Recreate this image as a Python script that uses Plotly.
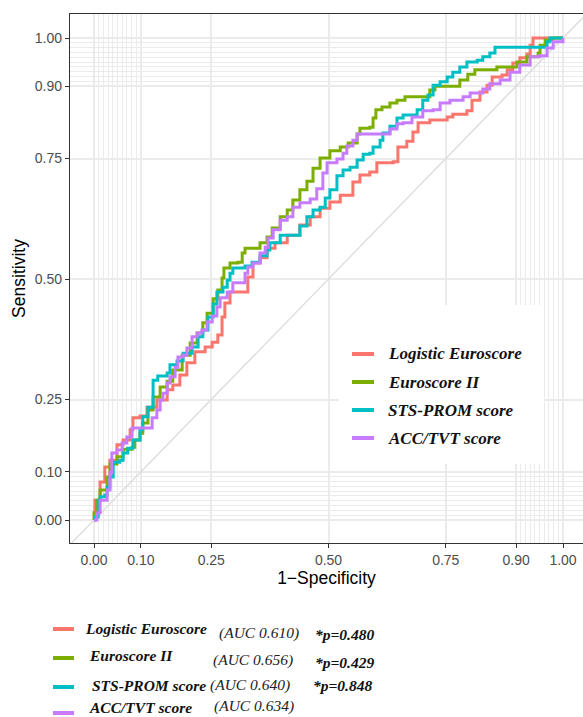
import plotly.graph_objects as go

# ---------------- data (1 - specificity, sensitivity) ----------------
series_names = ["Logistic Euroscore", "Euroscore II", "STS-PROM score", "ACC/TVT score"]
series_colors = ["#F8766D", "#7CAE00", "#00BFC4", "#C77CFF"]
auc_labels = ["(AUC 0.610)", "(AUC 0.656)", "(AUC 0.640)", "(AUC 0.634)"]
p_labels = ["*p=0.480", "*p=0.429", "*p=0.848", ""]

logistic_fpr = [0, 0.002, 0.013, 0.023, 0.034, 0.049, 0.062, 0.077, 0.083, 0.098, 0.113, 0.134,
                0.156, 0.168, 0.183, 0.198, 0.215, 0.237, 0.252, 0.264, 0.273, 0.279, 0.290, 0.322,
                0.328, 0.339, 0.354, 0.369, 0.386, 0.412, 0.439, 0.461, 0.482, 0.503, 0.525, 0.552,
                0.567, 0.588, 0.603, 0.638, 0.648, 0.667, 0.680, 0.691, 0.716, 0.753, 0.765, 0.795,
                0.806, 0.823, 0.838, 0.849, 0.870, 0.881, 0.893, 0.908, 0.923, 0.930, 0.936, 1.0]
logistic_tpr = [0, 0.041, 0.079, 0.110, 0.124, 0.156, 0.166, 0.187, 0.212, 0.216, 0.234, 0.249,
                0.270, 0.280, 0.301, 0.326, 0.349, 0.359, 0.369, 0.384, 0.421, 0.450, 0.473, 0.473,
                0.504, 0.533, 0.544, 0.564, 0.575, 0.591, 0.612, 0.629, 0.647, 0.660, 0.674, 0.701,
                0.716, 0.722, 0.741, 0.743, 0.774, 0.786, 0.805, 0.824, 0.830, 0.836, 0.842, 0.849,
                0.871, 0.888, 0.902, 0.919, 0.923, 0.934, 0.948, 0.959, 0.967, 0.985, 1.0, 1.0]

euro2_fpr = [0, 0, 0.006, 0.013, 0.028, 0.034, 0.049, 0.062, 0.081, 0.087, 0.098, 0.104, 0.115,
             0.126, 0.141, 0.156, 0.168, 0.188, 0.205, 0.220, 0.232, 0.241, 0.254, 0.264, 0.273,
             0.277, 0.290, 0.307, 0.316, 0.322, 0.348, 0.354, 0.369, 0.380, 0.397, 0.412, 0.424,
             0.439, 0.454, 0.467, 0.482, 0.503, 0.525, 0.542, 0.561, 0.567, 0.588, 0.595, 0.601,
             0.614, 0.631, 0.646, 0.663, 0.706, 0.716, 0.727, 0.774, 0.780, 0.797, 0.812, 0.859,
             0.887, 0.902, 0.923, 0.947, 0.951, 0.962, 0.977, 1.0]
euro2_tpr = [0, 0.015, 0.041, 0.062, 0.089, 0.116, 0.131, 0.147, 0.151, 0.166, 0.180, 0.201, 0.228,
             0.255, 0.276, 0.288, 0.311, 0.342, 0.367, 0.388, 0.409, 0.429, 0.459, 0.477, 0.502,
             0.523, 0.533, 0.535, 0.554, 0.564, 0.564, 0.575, 0.587, 0.606, 0.629, 0.643, 0.664,
             0.685, 0.703, 0.730, 0.751, 0.766, 0.774, 0.782, 0.801, 0.813, 0.815, 0.834, 0.851,
             0.857, 0.865, 0.871, 0.878, 0.878, 0.892, 0.900, 0.900, 0.913, 0.925, 0.934, 0.940,
             0.940, 0.950, 0.961, 0.969, 0.985, 0.996, 1.0, 1.0]

sts_fpr = [0, 0.002, 0.009, 0.013, 0.023, 0.028, 0.034, 0.041, 0.055, 0.062, 0.072, 0.083, 0.098,
           0.104, 0.115, 0.126, 0.136, 0.156, 0.162, 0.177, 0.190, 0.209, 0.222, 0.232, 0.243,
           0.254, 0.262, 0.275, 0.284, 0.290, 0.296, 0.322, 0.337, 0.354, 0.369, 0.375, 0.397,
           0.433, 0.439, 0.454, 0.467, 0.482, 0.493, 0.503, 0.518, 0.531, 0.546, 0.561, 0.574,
           0.588, 0.595, 0.610, 0.616, 0.631, 0.646, 0.659, 0.680, 0.689, 0.701, 0.712, 0.723,
           0.738, 0.753, 0.765, 0.780, 0.795, 0.817, 0.829, 0.844, 0.855, 0.957, 0.966, 0.972, 1.0]
sts_tpr = [0, 0.006, 0.041, 0.048, 0.052, 0.068, 0.089, 0.120, 0.124, 0.139, 0.149, 0.166, 0.187,
           0.214, 0.234, 0.290, 0.299, 0.305, 0.322, 0.330, 0.346, 0.359, 0.380, 0.394, 0.421,
           0.448, 0.473, 0.483, 0.498, 0.512, 0.523, 0.527, 0.535, 0.548, 0.560, 0.575, 0.591,
           0.591, 0.610, 0.629, 0.643, 0.649, 0.668, 0.685, 0.714, 0.726, 0.732, 0.747, 0.759,
           0.761, 0.774, 0.788, 0.803, 0.817, 0.834, 0.840, 0.840, 0.851, 0.871, 0.882, 0.902,
           0.909, 0.919, 0.929, 0.940, 0.950, 0.954, 0.961, 0.969, 0.981, 0.981, 0.992, 1.0, 1.0]

acc_fpr = [0, 0.006, 0.013, 0.023, 0.028, 0.034, 0.038, 0.049, 0.060, 0.070, 0.081, 0.113, 0.124,
           0.134, 0.141, 0.147, 0.156, 0.162, 0.173, 0.179, 0.190, 0.198, 0.209, 0.220, 0.230,
           0.241, 0.252, 0.262, 0.269, 0.284, 0.296, 0.311, 0.322, 0.328, 0.339, 0.354, 0.365,
           0.371, 0.382, 0.397, 0.412, 0.424, 0.439, 0.461, 0.475, 0.488, 0.497, 0.518, 0.531,
           0.539, 0.552, 0.561, 0.625, 0.631, 0.646, 0.659, 0.678, 0.701, 0.723, 0.738, 0.759,
           0.787, 0.802, 0.829, 0.844, 0.866, 0.887, 0.908, 0.930, 0.951, 0.966, 0.979, 1.0]
acc_tpr = [0, 0.015, 0.041, 0.041, 0.062, 0.098, 0.139, 0.145, 0.160, 0.172, 0.191, 0.191, 0.212,
           0.228, 0.249, 0.263, 0.284, 0.297, 0.317, 0.338, 0.342, 0.357, 0.380, 0.388, 0.394,
           0.411, 0.423, 0.442, 0.461, 0.473, 0.492, 0.492, 0.512, 0.525, 0.533, 0.554, 0.566,
           0.585, 0.602, 0.622, 0.629, 0.649, 0.658, 0.666, 0.687, 0.720, 0.741, 0.749, 0.761,
           0.776, 0.788, 0.801, 0.801, 0.811, 0.822, 0.824, 0.836, 0.849, 0.851, 0.865, 0.871,
           0.878, 0.886, 0.894, 0.905, 0.913, 0.929, 0.944, 0.961, 0.963, 0.979, 0.992, 1.0]

series_fpr = [logistic_fpr, euro2_fpr, sts_fpr, acc_fpr]
series_tpr = [logistic_tpr, euro2_tpr, sts_tpr, acc_tpr]

major_breaks = [0, 0.1, 0.25, 0.5, 0.75, 0.9, 1.0]
major_labels = ["0.00", "0.10", "0.25", "0.50", "0.75", "0.90", "1.00"]
minor_breaks = [round(i * 0.01, 2) for i in range(0, 11)] + [round(0.9 + i * 0.01, 2) for i in range(0, 11)]

# ---------------- layout geometry (pixels) ----------------
W, H = 583, 717
PL, PT, PR, PB = 70, 14, 583, 543        # plot panel edges
X0PX, X1PX = 94, 563                      # pixel of fpr 0 and 1
Y0PX, Y1PX = 520, 38                      # pixel of tpr 0 and 1
xs = (X1PX - X0PX)
ys = (Y0PX - Y1PX)
xrange_ = [(PL - X0PX) / xs, (PR - X0PX) / xs]
yrange_ = [(Y0PX - PB) / ys, (Y0PX - PT) / ys]


def pxx(p):
    return (p - PL) / (PR - PL)


def pxy(p):
    return (PB - p) / (PB - PT)


fig = go.Figure()

# diagonal reference line
fig.add_trace(go.Scatter(x=[xrange_[0], xrange_[1]], y=[xrange_[0], xrange_[1]], mode="lines",
                         line=dict(color="#DCDCDC", width=1.3), showlegend=False, hoverinfo="skip"))

for name, col, fx, ty in zip(series_names, series_colors, series_fpr, series_tpr):
    fig.add_trace(go.Scatter(x=fx, y=ty, mode="lines", name=name,
                             line=dict(color=col, width=3, shape="hv"), showlegend=False))

GRID = "#EBEBEB"
axis_common = dict(
    tickvals=major_breaks, ticktext=major_labels,
    showgrid=True, gridcolor=GRID, gridwidth=1.6,
    minor=dict(tickvals=minor_breaks, showgrid=True, gridcolor=GRID, gridwidth=0.8, ticks=""),
    zeroline=False, showline=True, linecolor="#333333", linewidth=1.3,
    ticks="outside", ticklen=4, tickcolor="#333333", tickwidth=1.1,
    tickfont=dict(family="Liberation Sans, Arial", size=14, color="#4D4D4D"),
)

fig.update_layout(
    width=W, height=H,
    margin=dict(l=PL, r=W - PR, t=PT, b=H - PB, pad=0),
    paper_bgcolor="white", plot_bgcolor="white",
    xaxis=dict(range=xrange_, mirror=True, **axis_common,
               title=dict(text="1\u2212Specificity", standoff=4,
                          font=dict(family="Liberation Sans, Arial", size=17.5, color="#000000"))),
    yaxis=dict(range=yrange_, **axis_common,
               title=dict(text="Sensitivity", standoff=4,
                          font=dict(family="Liberation Sans, Arial", size=17.5, color="#000000"))),
    showlegend=False,
)

shapes = []
annotations = []

# in-panel legend box (white, hides grid)
shapes.append(dict(type="rect", xref="paper", yref="paper", x0=pxx(339), x1=pxx(544),
                   y0=pxy(464), y1=pxy(305), fillcolor="white", line=dict(width=0), layer="above"))
leg_y = [354, 382, 410, 438]
for col, name, yy in zip(series_colors, series_names, leg_y):
    shapes.append(dict(type="line", xref="paper", yref="paper", x0=pxx(352), x1=pxx(374),
                       y0=pxy(yy), y1=pxy(yy), line=dict(color=col, width=4), layer="above"))
    annotations.append(dict(xref="paper", yref="paper", x=pxx(386), y=pxy(yy), xanchor="left",
                            yanchor="middle", showarrow=False, text="<b><i>%s</i></b>" % name,
                            font=dict(family="Liberation Serif, Times New Roman", size=17, color="#111111")))

# bottom legend with AUC and p values
bot_line_y = [629, 658, 687, 713]
bot_name = [(83, 628), (87, 655), (90, 685), (87, 707)]
bot_auc = [(217, 633), (211, 660), (208, 685), (212, 706)]
bot_p = [(313, 635), (313, 662), (311, 685), None]
for i in range(4):
    shapes.append(dict(type="line", xref="paper", yref="paper", x0=pxx(53), x1=pxx(74),
                       y0=pxy(bot_line_y[i]), y1=pxy(bot_line_y[i]),
                       line=dict(color=series_colors[i], width=4)))
    annotations.append(dict(xref="paper", yref="paper", x=pxx(bot_name[i][0]), y=pxy(bot_name[i][1]),
                            xanchor="left", yanchor="middle", showarrow=False,
                            text="<b><i>%s</i></b>" % series_names[i],
                            font=dict(family="Liberation Serif, Times New Roman", size=15.5, color="#111111")))
    annotations.append(dict(xref="paper", yref="paper", x=pxx(bot_auc[i][0]), y=pxy(bot_auc[i][1]),
                            xanchor="left", yanchor="middle", showarrow=False,
                            text="<i>%s</i>" % auc_labels[i],
                            font=dict(family="Liberation Serif, Times New Roman", size=15.5, color="#222222")))
    if bot_p[i] is not None and p_labels[i]:
        annotations.append(dict(xref="paper", yref="paper", x=pxx(bot_p[i][0]), y=pxy(bot_p[i][1]),
                                xanchor="left", yanchor="middle", showarrow=False,
                                text="<b><i>%s</i></b>" % p_labels[i],
                                font=dict(family="Liberation Serif, Times New Roman", size=15.5, color="#111111")))

fig.update_layout(shapes=shapes, annotations=annotations)
fig.write_html("out.html")
